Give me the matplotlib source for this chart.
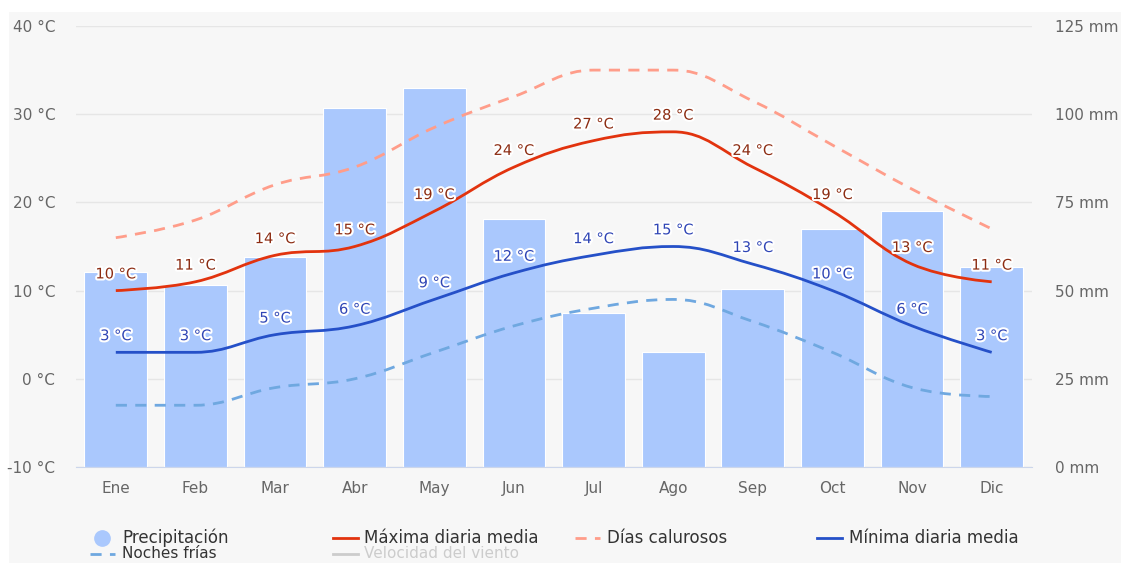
import matplotlib
matplotlib.use("Agg")
import matplotlib.pyplot as plt
from matplotlib.path import Path
from matplotlib.patches import PathPatch, Rectangle
from matplotlib.lines import Line2D
import matplotlib.patheffects as pe

plt.rcParams['font.family'] = ['DejaVu Sans']

months = ["Ene", "Feb", "Mar", "Abr", "May", "Jun", "Jul", "Ago", "Sep", "Oct", "Nov", "Dic"]
precip_mm = [55.3, 51.6, 59.5, 101.8, 107.4, 70.3, 43.7, 32.6, 50.5, 67.5, 72.6, 56.7]
max_temp = [10, 11, 14, 15, 19, 24, 27, 28, 24, 19, 13, 11]
min_temp = [3, 3, 5, 6, 9, 12, 14, 15, 13, 10, 6, 3]
hot_days = [16, 18, 22, 24, 28.5, 32, 35, 35, 31.5, 26.5, 21.5, 17]
cold_nights = [-3, -3, -1, 0, 3, 6, 8, 9, 6.5, 3, -1, -2]
temp_ticks = [-10, 0, 10, 20, 30, 40]
precip_ticks = [0, 25, 50, 75, 100, 125]

W, H = 1121, 563
fig = plt.figure(figsize=(W / 100, H / 100), dpi=100, facecolor="white")

def fx(px):
    return px / W

def fy(py):
    return 1 - py / H

# light grey chart background
fig.add_artist(Rectangle((fx(9), 0), fx(1121 - 9), (563 - 12) / H,
                         transform=fig.transFigure, facecolor="#f7f7f7",
                         edgecolor="none", zorder=0))

left, right, top, bottom = 76, 1031.5, 26, 467
ax = fig.add_axes([fx(left), fy(bottom), fx(right - left), (bottom - top) / H])
ax.set_facecolor("none")
ax2 = ax.twinx()

x = list(range(len(months)))

# precipitation bars on the right axis
ax2.bar(x, precip_mm, width=0.787, color="#aac8fd", edgecolor="white", linewidth=0.8, zorder=1)
ax2.set_ylim(0, 125)
ax2.set_yticks(precip_ticks)
ax2.set_yticklabels([f"{v} mm" for v in precip_ticks])
ax2.grid(axis="y", color="#e6e6e6", linewidth=1)
ax2.set_axisbelow(True)
ax2.patch.set_visible(False)

ax.set_zorder(ax2.get_zorder() + 1)
ax.patch.set_visible(False)
ax.set_ylim(-10, 40)
ax.set_xlim(-0.5, 11.5)
ax.set_yticks(temp_ticks)
ax.set_yticklabels([f"{v} °C" for v in temp_ticks])
ax.set_xticks(x)
ax.set_xticklabels(months)
for a in (ax, ax2):
    for s in a.spines.values():
        s.set_visible(False)
ax.spines["bottom"].set_visible(True)
ax.spines["bottom"].set_color("#ccd6eb")
ax.tick_params(axis="y", length=0, pad=15, labelsize=11, labelcolor="#666666")
ax.tick_params(axis="x", length=0, pad=10, labelsize=11, labelcolor="#666666")
ax2.tick_params(axis="y", length=0, pad=17, labelsize=11, labelcolor="#666666")


def hc_spline_path(xs, ys, smoothing=1.5):
    denom = smoothing + 1
    n = len(xs)
    verts = [(xs[0], ys[0])]
    codes = [Path.MOVETO]
    right_cont = [None] * n
    left_cont = [None] * n
    for i in range(n):
        px, py = xs[i], ys[i]
        if 0 < i < n - 1:
            lx, ly = xs[i - 1], ys[i - 1]
            nx, ny = xs[i + 1], ys[i + 1]
            lcx = (smoothing * px + lx) / denom
            lcy = (smoothing * py + ly) / denom
            rcx = (smoothing * px + nx) / denom
            rcy = (smoothing * py + ny) / denom
            corr = 0
            if rcx != lcx:
                corr = ((rcy - lcy) * (rcx - px)) / (rcx - lcx) + py - rcy
            lcy += corr
            rcy += corr
            if lcy > ly and lcy > py:
                lcy = max(ly, py)
                rcy = 2 * py - lcy
            elif lcy < ly and lcy < py:
                lcy = min(ly, py)
                rcy = 2 * py - lcy
            if rcy > ny and rcy > py:
                rcy = max(ny, py)
                lcy = 2 * py - rcy
            elif rcy < ny and rcy < py:
                rcy = min(ny, py)
                lcy = 2 * py - rcy
            left_cont[i] = (lcx, lcy)
            right_cont[i] = (rcx, rcy)
    for i in range(1, n):
        c1 = right_cont[i - 1] if right_cont[i - 1] else (xs[i - 1], ys[i - 1])
        c2 = left_cont[i] if left_cont[i] else (xs[i], ys[i])
        verts += [c1, c2, (xs[i], ys[i])]
        codes += [Path.CURVE4] * 3
    return Path(verts, codes)


def draw_series(ys, color, ls, lw, z):
    p = hc_spline_path(x, ys)
    patch = PathPatch(p, facecolor="none", edgecolor=color, linewidth=lw,
                      linestyle=ls, capstyle="butt", zorder=z)
    ax.add_patch(patch)


draw_series(hot_days, "#ff9d8a", (0, (4, 3)), 2.0, 3)
draw_series(cold_nights, "#6fa8e0", (0, (4, 3)), 2.0, 3)
draw_series(max_temp, "#e2330e", "-", 2.0, 4)
draw_series(min_temp, "#2550c8", "-", 2.0, 4)

halo = [pe.withStroke(linewidth=3, foreground="white")]
for xi, v in zip(x, max_temp):
    ax.annotate(f"{v} °C", (xi, v), xytext=(0, 12), textcoords="offset points",
                ha="center", va="center", fontsize=10.5, color="#8c2c12",
                path_effects=halo, zorder=6)
for xi, v in zip(x, min_temp):
    ax.annotate(f"{v} °C", (xi, v), xytext=(0, 12), textcoords="offset points",
                ha="center", va="center", fontsize=10.5, color="#2f45b5",
                path_effects=halo, zorder=6)

# legend (manual layout)
def leg_line(x0, y, color, ls="-"):
    fig.add_artist(Line2D([fx(x0), fx(x0 + 25)], [fy(y), fy(y)], color=color,
                          linewidth=2, linestyle=ls, transform=fig.transFigure))

def leg_text(x0, y, s, color="#333333", size=12):
    fig.text(fx(x0), fy(y), s, fontsize=size, color=color, va="center", ha="left")

ry1, ry2 = 538, 554
fig.add_artist(Line2D([fx(102)], [fy(ry1)], marker="o", markersize=11, color="#aac8fd",
                      linestyle="none", transform=fig.transFigure))
leg_text(122, ry1, "Precipitación")
leg_line(333, ry1, "#e2330e")
leg_text(364, ry1, "Máxima diaria media")
leg_line(575, ry1, "#ff9d8a", (0, (4, 3)))
leg_text(607, ry1, "Días calurosos")
leg_line(817, ry1, "#2550c8")
leg_text(849, ry1, "Mínima diaria media")
leg_line(90, ry2, "#6fa8e0", (0, (4, 3)))
leg_text(122, ry2, "Noches frías", size=11)
leg_line(333, ry2, "#cccccc")
leg_text(364, ry2, "Velocidad del viento", color="#cccccc", size=11)

fig.savefig("out.png", dpi=100, facecolor="white")
